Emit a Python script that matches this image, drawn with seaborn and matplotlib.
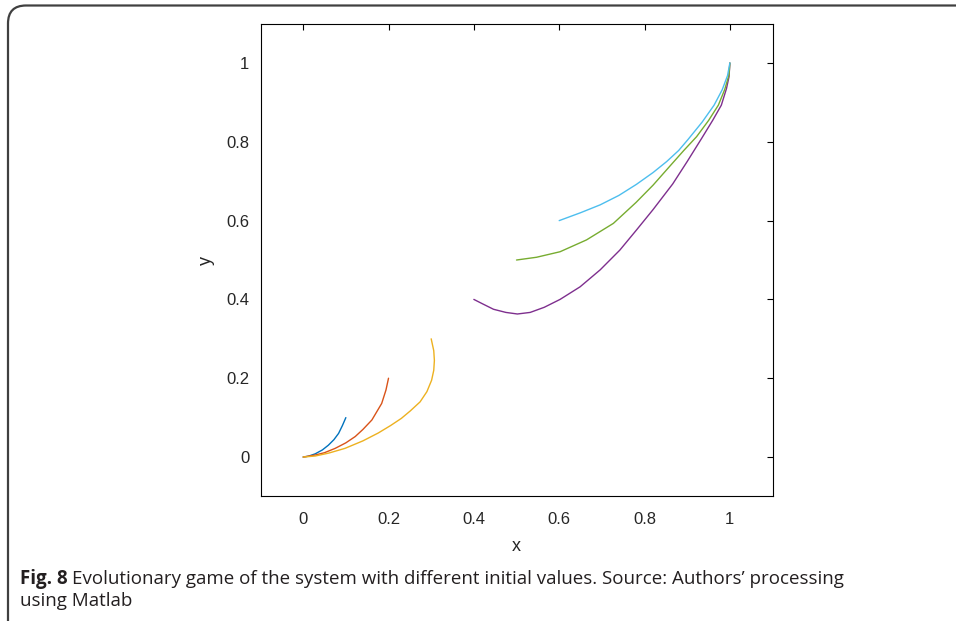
import numpy as np
import pandas as pd
import matplotlib
matplotlib.use('Agg')
import matplotlib.pyplot as plt
import seaborn as sns
from matplotlib.patches import FancyBboxPatch
from matplotlib.transforms import IdentityTransform

# trajectories (x, y), starting at the initial value
blue_x = [0.100, 0.092, 0.083, 0.072, 0.059, 0.045, 0.028, 0.012, 0.0]
blue_y = [0.100, 0.080, 0.060, 0.044, 0.030, 0.018, 0.008, 0.002, 0.0]

red_x = [0.200, 0.194, 0.184, 0.161, 0.140, 0.122, 0.100, 0.075, 0.050, 0.028, 0.0]
red_y = [0.200, 0.170, 0.136, 0.094, 0.070, 0.052, 0.036, 0.022, 0.011, 0.005, 0.0]

yellow_x = [0.300, 0.306, 0.3075, 0.306, 0.301, 0.290, 0.274, 0.251, 0.230,
            0.205, 0.176, 0.140, 0.098, 0.060, 0.028, 0.0]
yellow_y = [0.300, 0.270, 0.245, 0.220, 0.195, 0.166, 0.140, 0.117, 0.098,
            0.080, 0.061, 0.041, 0.022, 0.010, 0.0025, 0.0]

purple_x = [0.400, 0.420, 0.446, 0.475, 0.502, 0.532, 0.565, 0.602, 0.649, 0.696,
            0.742, 0.781, 0.820, 0.866, 0.900, 0.934, 0.960, 0.980, 0.992, 0.998, 1.0]
purple_y = [0.400, 0.389, 0.375, 0.367, 0.363, 0.367, 0.380, 0.400, 0.432, 0.475,
            0.525, 0.576, 0.628, 0.693, 0.750, 0.809, 0.855, 0.893, 0.935, 0.965, 1.0]

green_x = [0.500, 0.547, 0.602, 0.664, 0.727, 0.780, 0.820, 0.860, 0.892, 0.922,
           0.950, 0.973, 0.988, 0.998, 1.0]
green_y = [0.500, 0.507, 0.521, 0.551, 0.593, 0.646, 0.690, 0.739, 0.778, 0.813,
           0.854, 0.893, 0.933, 0.970, 1.0]

cyan_x = [0.600, 0.650, 0.696, 0.740, 0.781, 0.820, 0.852, 0.880, 0.902, 0.935,
          0.963, 0.982, 0.9945, 1.0]
cyan_y = [0.600, 0.620, 0.640, 0.664, 0.692, 0.722, 0.750, 0.778, 0.806, 0.850,
          0.893, 0.932, 0.968, 1.0]

curves = [
    (blue_x, blue_y, '#0072BD'),
    (red_x, red_y, '#D95319'),
    (yellow_x, yellow_y, '#EDB120'),
    (purple_x, purple_y, '#7E2F8E'),
    (green_x, green_y, '#77AC30'),
    (cyan_x, cyan_y, '#4DBEEE'),
]

ticks = [0, 0.2, 0.4, 0.6, 0.8, 1]
tick_labels = ['0', '0.2', '0.4', '0.6', '0.8', '1']

sns.set_style('white')
plt.rcParams['font.family'] = ['Liberation Sans', 'DejaVu Sans']

fig = plt.figure(figsize=(9.56, 6.21), dpi=100)
ax = fig.add_axes([0.2725, 0.2006, 0.5356, 0.7614])

for xs, ys, c in curves:
    df = pd.DataFrame({'x': xs, 'y': ys})
    sns.lineplot(data=df, x='x', y='y', sort=False, estimator=None,
                 color=c, linewidth=1.0, ax=ax)

ax.set_xlim(-0.1, 1.1)
ax.set_ylim(-0.1, 1.1)
ax.set_xticks(ticks)
ax.set_xticklabels(tick_labels)
ax.set_yticks(ticks)
ax.set_yticklabels(tick_labels)
ax.tick_params(direction='in', length=4, width=0.8, color='black',
               top=True, right=True, labelsize=12)
ax.tick_params(axis='x', pad=11)
ax.tick_params(axis='y', pad=8)
for s in ax.spines.values():
    s.set_visible(True)
    s.set_color('black')
    s.set_linewidth(0.8)
ax.set_xlabel('x', fontsize=13, labelpad=8)
ax.set_ylabel('y', fontsize=13, labelpad=8)

# rounded frame around the figure panel
frame = FancyBboxPatch((8, -60), 1000, 675.5,
                       boxstyle='round,pad=0,rounding_size=18',
                       transform=IdentityTransform(), fill=False,
                       edgecolor='#404040', linewidth=1.6)
fig.patches.append(frame)

# caption
cap_font = ['Open Sans', 'DejaVu Sans']
t1 = fig.text(20 / 956, 1 - 584 / 621, 'Fig. 8', fontsize=13.5, fontweight='bold',
              family=cap_font, va='baseline', color='#231f20')
fig.canvas.draw()
bb = t1.get_window_extent()
fig.text((bb.x1 + 4) / 956, 1 - 584 / 621,
         'Evolutionary game of the system with different initial values. Source: Authors\u2019 processing',
         fontsize=13.5, family=cap_font, va='baseline', color='#231f20')
fig.text(20 / 956, 1 - 606 / 621, 'using Matlab', fontsize=13.5, family=cap_font,
         va='baseline', color='#231f20')

fig.savefig('out.png', dpi=100)
